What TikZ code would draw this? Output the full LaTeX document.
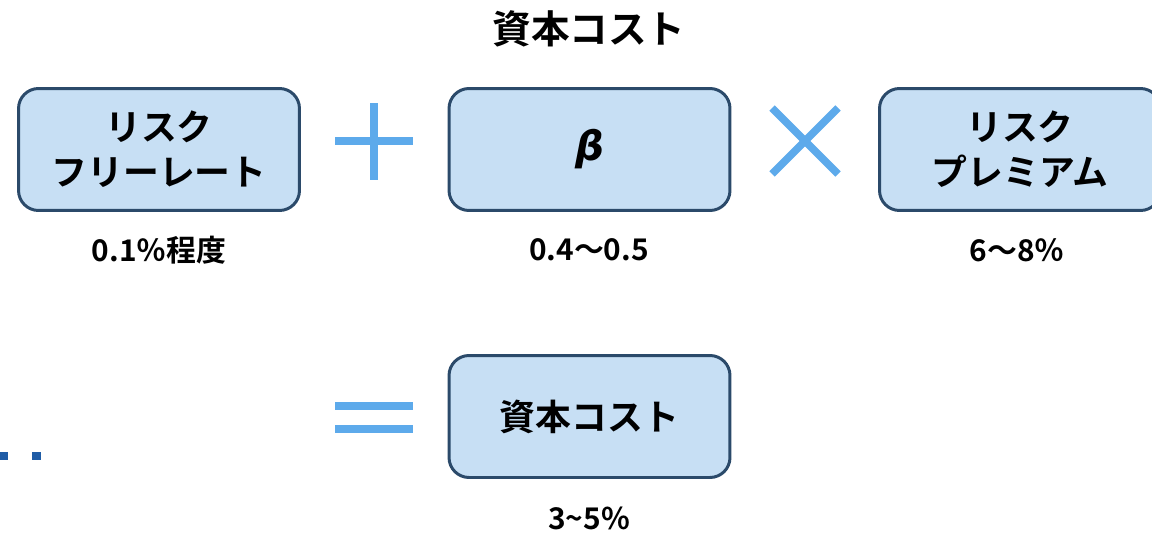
\documentclass[tikz,border=0pt]{standalone}
\usepackage{fontspec}
\setmainfont{Noto Sans CJK JP}[BoldFont={* Bold}]
\newfontfamily\greekfont{DejaVu Sans}
\usepackage{tikz}
\usepackage{xcolor}
\definecolor{boxfill}{HTML}{C7DFF4}
\definecolor{boxline}{HTML}{2B4A6A}
\definecolor{opblue}{HTML}{5DAAEB}
\definecolor{dotblue}{HTML}{1F5CA6}

\begin{document}
\begin{tikzpicture}[x=0.02cm,y=0.02cm,
  every node/.style={font=\bfseries},
  costbox/.style={draw=boxline,fill=boxfill,line width=1.7pt,rounded corners=0.4cm,
    minimum width=5.62cm,minimum height=2.44cm,align=center,inner sep=0pt,
    font=\fontsize{20.4}{25.5}\selectfont\bfseries},
  note/.style={font=\fontsize{17}{20}\selectfont\bfseries},
  op/.style={draw=opblue,line width=4.3pt}]
\useasboundingbox (0,0) rectangle (1152,-534);
\begin{scope}
\clip (0,0) rectangle (1152,-534);
\node[font=\fontsize{22}{26}\selectfont\bfseries] (title) at (589,-29) {資本コスト};
\node[costbox] (rf) at (159,-149.5) {リスク\\フリーレート};
\node[costbox] (beta) at (589.5,-149.5) {{\greekfont\fontsize{23}{26}\selectfont\bfseries\itshape β}};
\node[costbox] (rp) at (1020,-149.5) {リスク\\プレミアム};
\node[costbox] (cost) at (589.5,-416.5) {資本コスト};
\node[note] (rfval) at (159,-250) {0.1％程度};
\node[note] (betaval) at (589,-250) {0.4～0.5};
\node[note] (rpval) at (1017,-250) {6～8％};
\node[note] (costval) at (589,-518) {3\char`~5\%};
\end{scope}
% operators
\draw[op] (335,-141) -- (413,-141);
\draw[op] (374,-103) -- (374,-180);
\draw[op] (772,-108) -- (838,-174);
\draw[op] (772,-174) -- (838,-108);
\draw[op] (335,-406) -- (413,-406);
\draw[op] (335,-429) -- (413,-429);
% dots
\fill[dotblue] (0,-452) rectangle (8,-460);
\fill[dotblue] (32,-452) rectangle (41,-460);
\end{tikzpicture}
\end{document}
